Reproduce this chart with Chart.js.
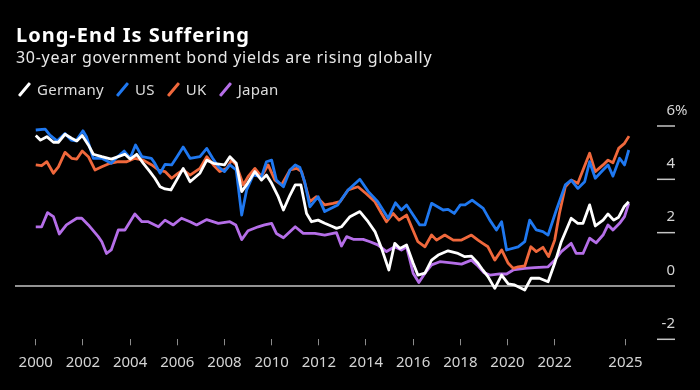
<!DOCTYPE html>
<html>
<head>
<meta charset="utf-8">
<title>Long-End Is Suffering</title>
<script src="https://cdn.jsdelivr.net/npm/chart.js@4.4.1/dist/chart.umd.min.js"></script>
<style>
  html, body { margin: 0; padding: 0; background: #000; }
  body {
    width: 700px; height: 390px; position: relative; overflow: hidden;
    font-family: 'Noto Sans', sans-serif; color: #fff;
  }
  #chart { position: absolute; left: 0; top: 0; }
  .title {
    position: absolute; left: 16px; top: 24px;
    font-size: 20px; line-height: 22px; font-weight: 700; letter-spacing: 1px;
  }
  .subtitle {
    position: absolute; left: 16px; top: 47px;
    font-size: 16px; line-height: 20px; color: #e8e8e8; letter-spacing: 0.7px;
  }
  .legend {
    position: absolute; left: 17px; top: 79px;
    display: flex; font-size: 15px; line-height: 20px; color: #dcdcdc; letter-spacing: 0.3px;
  }
  .legend-item { display: flex; align-items: center; margin-right: 11px; }
  .legend-swatch {
    width: 3px; height: 17px; border-radius: 1px;
    transform: rotate(40deg); margin: 0 11px 0 6px;
  }
</style>
</head>
<body>
<canvas id="chart" width="700" height="390"></canvas>
<div class="title">Long-End Is Suffering</div>
<div class="subtitle">30-year government bond yields are rising globally</div>
<div class="legend" id="legend"></div>

<script>
// ================================================
//  30-year government bond yields, 2000 – 2025
//  values (in %)
// ================================================

const xTicks      = [2000, 2002, 2004, 2006, 2008, 2010, 2012, 2014, 2016, 2018, 2020, 2022, 2025];
const yTicks      = [-2, 0, 2, 4, 6];
const yTickLabels = ['-2', '0', '2', '4', '6'];
const yUnit       = '%';

const seriesNames  = ['Germany', 'US', 'UK', 'Japan'];
const seriesColors = ['#ffffff', '#1f78f0', '#f0683c', '#b56ee8'];

const germanyYears = [2000.0, 2000.2, 2000.47, 2000.75, 2000.96, 2001.24, 2001.52, 2001.74, 2001.97, 2002.23, 2002.44, 2002.8, 2003.2, 2003.5, 2003.78, 2004.0, 2004.28, 2004.56, 2004.84, 2005.05, 2005.27, 2005.48, 2005.73, 2005.97, 2006.25, 2006.54, 2006.96, 2007.25, 2007.53, 2008.0, 2008.23, 2008.5, 2008.73, 2008.98, 2009.29, 2009.57, 2009.78, 2010.0, 2010.28, 2010.5, 2010.78, 2011.0, 2011.24, 2011.48, 2011.69, 2011.97, 2012.25, 2012.6, 2012.75, 2012.96, 2013.32, 2013.74, 2014.09, 2014.38, 2014.66, 2014.97, 2015.22, 2015.44, 2015.72, 2016.0, 2016.2, 2016.5, 2016.78, 2017.06, 2017.48, 2017.9, 2018.19, 2018.47, 2018.75, 2018.95, 2019.17, 2019.46, 2019.75, 2020.03, 2020.3, 2020.73, 2021.0, 2021.35, 2021.72, 2022.0, 2022.28, 2022.7, 2022.98, 2023.2, 2023.48, 2023.72, 2024.05, 2024.26, 2024.5, 2024.71, 2024.94, 2025.14];
const germanyYield = [5.64, 5.47, 5.6, 5.39, 5.39, 5.69, 5.54, 5.44, 5.64, 5.29, 4.94, 4.85, 4.76, 4.85, 4.94, 4.76, 4.94, 4.6, 4.29, 4.04, 3.72, 3.64, 3.6, 3.97, 4.41, 3.91, 4.23, 4.72, 4.6, 4.54, 4.85, 4.6, 3.54, 3.85, 4.29, 3.97, 4.16, 3.85, 3.35, 2.85, 3.41, 3.79, 3.79, 2.72, 2.41, 2.47, 2.35, 2.22, 2.16, 2.22, 2.6, 2.79, 2.41, 2.04, 1.41, 0.6, 1.6, 1.41, 1.54, 0.85, 0.41, 0.48, 0.97, 1.16, 1.32, 1.22, 1.1, 1.12, 0.85, 0.6, 0.35, -0.09, 0.41, 0.08, 0.04, -0.15, 0.29, 0.29, 0.16, 0.85, 1.66, 2.54, 2.35, 2.35, 3.04, 2.25, 2.47, 2.7, 2.47, 2.58, 2.97, 3.16];

const usYears = [2000.0, 2000.4, 2000.6, 2000.9, 2001.24, 2001.5, 2001.7, 2002.0, 2002.15, 2002.44, 2002.8, 2003.2, 2003.4, 2003.75, 2004.0, 2004.23, 2004.5, 2004.9, 2005.05, 2005.27, 2005.48, 2005.76, 2005.97, 2006.25, 2006.54, 2006.96, 2007.25, 2007.5, 2007.74, 2008.0, 2008.23, 2008.5, 2008.73, 2008.94, 2009.22, 2009.57, 2009.78, 2010.0, 2010.2, 2010.5, 2010.78, 2011.0, 2011.2, 2011.4, 2011.62, 2011.97, 2012.25, 2012.8, 2013.24, 2013.74, 2014.1, 2014.5, 2014.94, 2015.25, 2015.5, 2015.72, 2016.28, 2016.5, 2016.78, 2017.27, 2017.48, 2017.74, 2018.0, 2018.2, 2018.5, 2018.97, 2019.25, 2019.53, 2019.75, 2019.96, 2020.45, 2020.73, 2020.94, 2021.22, 2021.5, 2021.72, 2022.07, 2022.45, 2022.7, 2022.98, 2023.27, 2023.48, 2023.72, 2024.05, 2024.26, 2024.47, 2024.75, 2024.96, 2025.14];
const usYield = [5.85, 5.88, 5.66, 5.44, 5.72, 5.47, 5.44, 5.82, 5.6, 4.79, 4.79, 4.6, 4.79, 5.06, 4.79, 5.29, 4.85, 4.79, 4.6, 4.23, 4.56, 4.54, 4.82, 5.21, 4.79, 4.85, 5.16, 4.79, 4.47, 4.29, 4.54, 4.35, 2.66, 3.6, 4.16, 4.1, 4.66, 4.72, 3.97, 3.72, 4.35, 4.54, 4.44, 3.91, 2.97, 3.35, 2.79, 3.04, 3.6, 4.0, 3.54, 3.16, 2.54, 3.12, 2.85, 3.04, 2.29, 2.29, 3.1, 2.85, 2.87, 2.72, 3.04, 3.04, 3.22, 2.91, 2.47, 2.1, 2.41, 1.35, 1.47, 1.66, 2.47, 2.1, 2.04, 1.91, 2.85, 3.79, 3.97, 3.66, 3.91, 4.66, 4.04, 4.35, 4.54, 4.12, 4.79, 4.54, 5.1];

const ukYears = [2000.0, 2000.25, 2000.47, 2000.75, 2000.96, 2001.24, 2001.52, 2001.74, 2001.97, 2002.23, 2002.51, 2002.8, 2003.15, 2003.5, 2003.86, 2004.2, 2004.56, 2004.92, 2005.2, 2005.48, 2005.76, 2006.04, 2006.25, 2006.54, 2006.96, 2007.25, 2007.53, 2007.8, 2008.1, 2008.3, 2008.5, 2008.8, 2009.0, 2009.29, 2009.57, 2009.85, 2010.14, 2010.42, 2010.78, 2011.06, 2011.27, 2011.62, 2011.9, 2012.25, 2012.6, 2012.9, 2013.24, 2013.66, 2014.0, 2014.38, 2014.66, 2014.87, 2015.15, 2015.4, 2015.72, 2015.93, 2016.2, 2016.5, 2016.78, 2016.99, 2017.34, 2017.7, 2018.05, 2018.47, 2018.75, 2018.95, 2019.17, 2019.46, 2019.75, 2020.03, 2020.24, 2020.45, 2020.73, 2020.99, 2021.22, 2021.5, 2021.74, 2022.0, 2022.2, 2022.45, 2022.7, 2022.98, 2023.2, 2023.48, 2023.72, 2024.05, 2024.26, 2024.47, 2024.71, 2024.96, 2025.15];
const ukYield = [4.54, 4.51, 4.66, 4.23, 4.47, 5.01, 4.79, 4.76, 5.06, 4.85, 4.35, 4.47, 4.6, 4.66, 4.66, 4.79, 4.72, 4.54, 4.35, 4.29, 4.04, 4.23, 4.35, 4.16, 4.41, 4.85, 4.54, 4.29, 4.41, 4.72, 4.54, 3.79, 4.1, 4.41, 4.1, 4.54, 3.97, 3.79, 4.35, 4.41, 4.29, 3.16, 3.35, 3.04, 3.1, 3.16, 3.6, 3.72, 3.47, 3.16, 2.72, 2.41, 2.72, 2.47, 2.66, 2.22, 1.66, 1.47, 1.91, 1.72, 1.91, 1.72, 1.72, 1.91, 1.72, 1.6, 1.47, 0.97, 1.35, 0.85, 0.66, 0.72, 0.75, 1.47, 1.29, 1.45, 1.1, 1.72, 2.72, 3.72, 3.97, 3.85, 4.35, 4.98, 4.29, 4.54, 4.72, 4.62, 5.16, 5.35, 5.62];

const japanYears = [2000.0, 2000.25, 2000.5, 2000.75, 2001.0, 2001.3, 2001.74, 2001.95, 2002.23, 2002.65, 2002.8, 2003.0, 2003.2, 2003.5, 2003.78, 2004.2, 2004.5, 2004.77, 2005.2, 2005.48, 2005.83, 2006.18, 2006.54, 2006.82, 2007.25, 2007.74, 2008.23, 2008.48, 2008.73, 2009.0, 2009.43, 2009.7, 2010.0, 2010.2, 2010.5, 2011.0, 2011.34, 2011.83, 2012.25, 2012.75, 2012.96, 2013.18, 2013.46, 2013.88, 2014.17, 2014.5, 2014.87, 2015.22, 2015.5, 2015.72, 2016.0, 2016.24, 2016.5, 2016.78, 2017.13, 2017.62, 2018.05, 2018.47, 2018.75, 2019.0, 2019.25, 2019.67, 2019.96, 2020.24, 2020.73, 2021.15, 2021.72, 2022.0, 2022.28, 2022.7, 2022.91, 2023.2, 2023.48, 2023.76, 2024.05, 2024.26, 2024.47, 2024.75, 2024.96, 2025.14];
const japanYield = [2.22, 2.22, 2.75, 2.6, 1.95, 2.29, 2.54, 2.54, 2.29, 1.85, 1.66, 1.22, 1.35, 2.1, 2.1, 2.7, 2.41, 2.41, 2.22, 2.47, 2.29, 2.54, 2.41, 2.29, 2.49, 2.35, 2.41, 2.29, 1.74, 2.07, 2.22, 2.29, 2.35, 1.97, 1.81, 2.22, 1.97, 1.97, 1.91, 2.0, 1.5, 1.85, 1.75, 1.75, 1.66, 1.54, 1.29, 1.47, 1.35, 1.47, 0.48, 0.13, 0.48, 0.79, 0.91, 0.87, 0.82, 0.97, 0.75, 0.5, 0.41, 0.45, 0.45, 0.6, 0.66, 0.69, 0.72, 0.97, 1.29, 1.6, 1.22, 1.22, 1.79, 1.62, 1.91, 2.29, 2.1, 2.35, 2.6, 3.1];

const seriesYears  = [germanyYears, usYears, ukYears, japanYears];
const seriesYields = [germanyYield, usYield, ukYield, japanYield];

//  LEGEND (html)

document.getElementById('legend').innerHTML = seriesNames.map((name, i) => `
  <div class="legend-item">
    <span class="legend-swatch" style="background:${seriesColors[i]}"></span>
    <span>${name}</span>
  </div>`).join('');

//  RIGHT-HAND AXIS — short gridline stubs, labels sitting above them,
//  full-width zero line

const rightAxis = {
  id: 'rightAxis',
  beforeDatasetsDraw(chart) {
    const { ctx, chartArea, scales: { y } } = chart;
    ctx.save();
    ctx.strokeStyle = '#c4c4c4';
    ctx.lineWidth   = 1.5;
    ctx.fillStyle   = '#d4d4d4';
    ctx.font        = '15px "Noto Sans"';
    ctx.textBaseline = 'middle';

    yTicks.forEach((v, i) => {
      const py = y.getPixelForValue(v);
      ctx.beginPath();
      ctx.moveTo(v === 0 ? chartArea.left : chartArea.right - 18, py);
      ctx.lineTo(chartArea.right, py);
      ctx.stroke();

      ctx.textAlign = 'right';
      ctx.fillText(yTickLabels[i], chartArea.right, py - 15.5);
      if (i === yTicks.length - 1) {
        ctx.textAlign = 'left';
        ctx.fillText(yUnit, chartArea.right, py - 15.5);
      }
    });
    ctx.restore();
  },
};

//  CHART

new Chart(document.getElementById('chart'), {
  type: 'line',
  data: {
    datasets: seriesNames.map((name, i) => ({
      label:          name,
      data:           seriesYears[i].map((x, j) => ({ x, y: seriesYields[i][j] })),
      borderColor:    seriesColors[i],
      borderWidth:    2.8,
      borderJoinStyle: 'round',
      pointRadius:    0,
      tension:        0,
    })),
  },
  options: {
    responsive: false,
    animation:  false,
    layout: { padding: { left: 15, right: 25, top: 110, bottom: 0 } },
    plugins: {
      legend:  { display: false },
      tooltip: { enabled: false },
    },
    scales: {
      x: {
        type: 'linear',
        min:  1999.12,
        max:  2027.1,
        afterBuildTicks: s => { s.ticks = xTicks.map(v => ({ value: v })); },
        afterFit:        s => { s.height = 50.7; },
        grid:   { drawOnChartArea: false, tickLength: 6, color: '#8c8c8c', lineWidth: 1 },
        border: { display: false },
        ticks: {
          color:       '#d4d4d4',
          font:        { family: 'Noto Sans', size: 15 },
          padding:     8,
          maxRotation: 0,
          autoSkip:    false,
          callback:    v => String(v),
        },
      },
      y: { display: false, min: -2, max: 6.6 },
    },
  },
  plugins: [rightAxis],
});
</script>
</body>
</html>
